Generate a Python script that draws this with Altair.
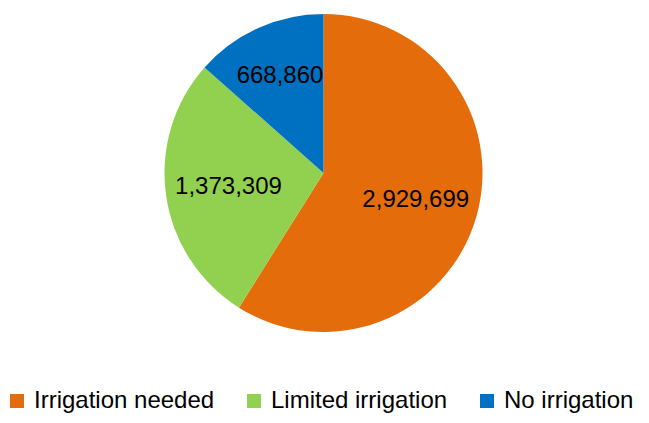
import altair as alt
import pandas as pd

categories = ["Irrigation needed", "Limited irrigation", "No irrigation"]
values = [2929699, 1373309, 668860]
colors = ["#E46C0A", "#92D050", "#0070C0"]

df = pd.DataFrame({"category": categories, "value": values, "idx": list(range(len(categories)))})

FONT = "Liberation Sans"
CX, CY = 315.5, 165  # pie centre inside the view

base = alt.Chart(df).encode(
    theta=alt.Theta("value:Q", stack=True),
    order=alt.Order("idx:Q"),
    x=alt.value(CX),
    y=alt.value(CY),
)

arc = base.mark_arc(radius=159, stroke=None).encode(
    color=alt.Color(
        "category:N",
        scale=alt.Scale(domain=categories, range=colors),
        sort=categories,
        legend=alt.Legend(
            title=None,
            orient="none",
            direction="horizontal",
            legendX=-3,
            legendY=381,
            symbolType="square",
            symbolSize=196,
            symbolStrokeWidth=0,
            labelFont=FONT,
            labelFontSize=24,
            labelColor="#000000",
            labelOffset=5,
            columnPadding=27,
            padding=0,
            labelLimit=400,
        ),
    )
)

text_main = base.mark_text(radius=96, font=FONT, fontSize=24).encode(
    text=alt.Text("value:Q", format=","),
    opacity=alt.condition(alt.datum.idx < 2, alt.value(1), alt.value(0)),
)
text_blue = base.mark_text(radius=106, font=FONT, fontSize=24).encode(
    text=alt.Text("value:Q", format=","),
    opacity=alt.condition(alt.datum.idx == 2, alt.value(1), alt.value(0)),
)

chart = alt.layer(arc, text_main, text_blue).properties(
    width=633, height=407, padding=0,
    autosize=alt.AutoSizeParams(type="none"),
).configure_view(stroke=None).configure_text(color="#000000")

chart.save("out.html", embed_options={"renderer": "svg", "actions": False})
